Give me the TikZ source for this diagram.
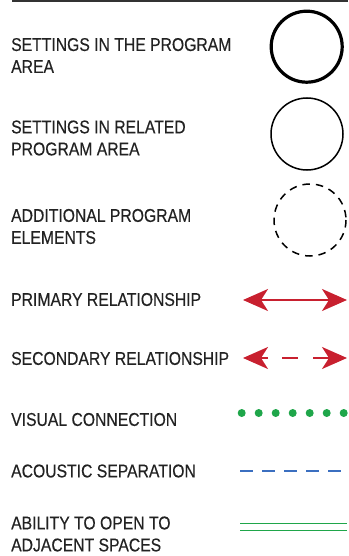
\documentclass[tikz,border=0pt]{standalone}
\usepackage{fontspec}
\setmainfont{Liberation Sans}[FakeStretch=0.85,FakeBold=0.35]
\usetikzlibrary{arrows.meta}
\definecolor{txt}{HTML}{222222}
\definecolor{redc}{HTML}{C8202F}
\definecolor{greenc}{HTML}{1FA64A}
\definecolor{bluec}{HTML}{3B6FC0}
\begin{document}
\begin{tikzpicture}[x=1pt,y=-1pt,
  lab/.style={anchor=west,inner sep=0pt,align=left,text=txt,font=\fontsize{18.5}{22}\selectfont},
  redtip/.style={-{Stealth[length=25pt,width=22pt,inset=7pt]},redc,line width=2pt},
  ring/.style={draw=black,line width=1.5pt}]
\useasboundingbox (0,0) rectangle (348,556);
\draw[line width=1.5pt,black!80] (12,1) -- (348,1);
% labels
\node[lab] (l1) at (11,55.5) {SETTINGS IN THE PROGRAM\\AREA};
\node[lab] (l2) at (11,138) {SETTINGS IN RELATED\\PROGRAM AREA};
\node[lab] (l3) at (11,226.5) {ADDITIONAL PROGRAM\\ELEMENTS};
\node[lab] (l4) at (11,299.5) {PRIMARY RELATIONSHIP};
\node[lab] (l5) at (11,358.5) {SECONDARY RELATIONSHIP};
\node[lab] (l6) at (11,419.5) {VISUAL CONNECTION};
\node[lab] (l7) at (11,471) {ACOUSTIC SEPARATION};
\node[lab] (l8) at (11,534) {ABILITY TO OPEN TO\\ADJACENT SPACES};
% circles
\draw[black,line width=3.2pt] (306.7,46.7) circle[radius=35.5];
\draw[ring] (307,134) circle[radius=36];
\draw[ring,dash pattern=on 7.5pt off 6pt] (310,220) circle[radius=36];
% primary
\coordinate (pa) at (243,300);
\coordinate (pb) at (347,300);
\draw[redtip,{Stealth[length=25pt,width=22pt,inset=7pt]}-{Stealth[length=25pt,width=22pt,inset=7pt]}] (pa) -- (pb);
% secondary
\coordinate (sa) at (243,358);
\coordinate (sa2) at (268,358);
\coordinate (sm1) at (282,358);
\coordinate (sm2) at (298,358);
\coordinate (sb1) at (313,358);
\coordinate (sb) at (347,358);
\draw[redtip] (sa2) -- (sa);
\draw[redc,line width=2pt] (sm1) -- (sm2);
\draw[redtip] (sb1) -- (sb);
% visual
\foreach \x in {241.7,258.7,275.7,292.7,309.7,326.7,343.7}
  \fill[greenc] (\x,413) circle[radius=4];
% acoustic
\coordinate (aa) at (240,471);
\coordinate (ab) at (348,471);
\draw[bluec,line width=1.3pt,dash pattern=on 13pt off 9pt] (aa) -- (ab);
% ability
\coordinate (ba) at (240,523.3);
\coordinate (bb) at (347,523.3);
\coordinate (bc) at (240,530.7);
\coordinate (bd) at (347,530.7);
\draw[greenc,line width=1.3pt] (ba) -- (bb);
\draw[greenc,line width=1.3pt] (bc) -- (bd);
\end{tikzpicture}
\end{document}
